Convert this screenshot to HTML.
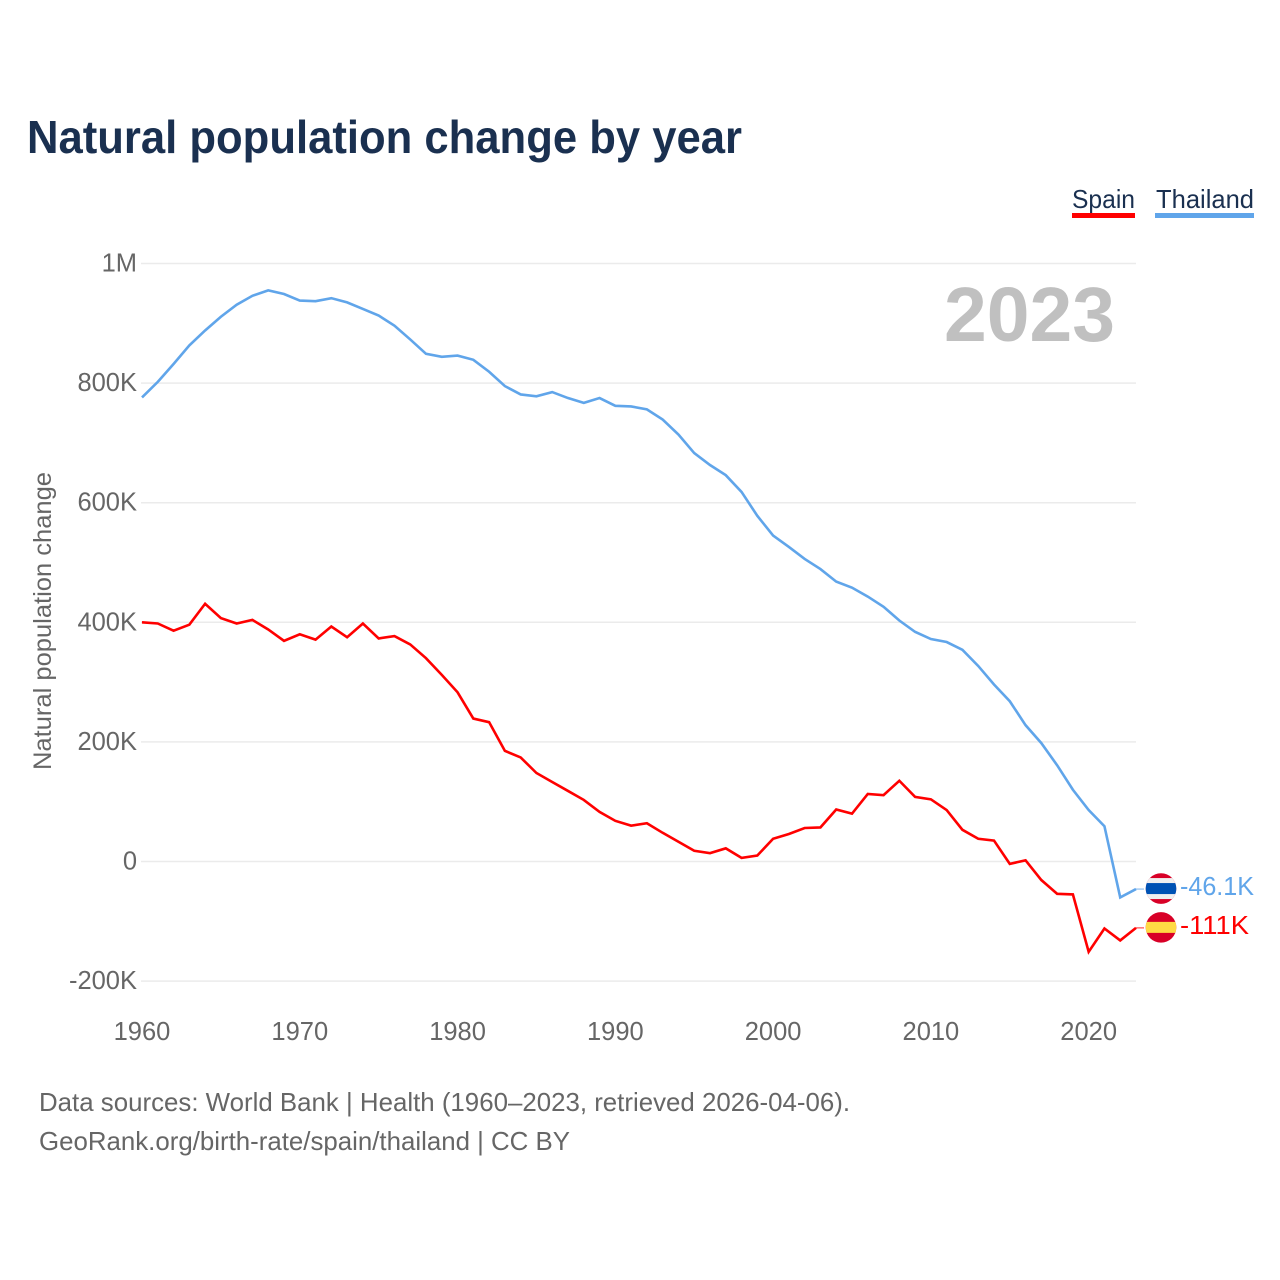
<!DOCTYPE html>
<html lang="en">
<head>
<meta charset="utf-8">
<title>Natural population change by year</title>
<style>
  html, body { margin: 0; padding: 0; background: #fff; }
  svg { display: block; }
  text { font-family: "Liberation Sans", sans-serif; }
</style>
</head>
<body>
<svg id="chart" xmlns="http://www.w3.org/2000/svg" width="1280" height="1280" viewBox="0 0 1280 1280">
  <defs>
    <clipPath id="flag-clip"><circle cx="0" cy="0" r="15.3"></circle></clipPath>
  </defs>
  <rect x="0" y="0" width="1280" height="1280" fill="#ffffff"></rect>

  <text x="27" y="153" font-size="46" font-weight="700" fill="#1a3050" textLength="715" lengthAdjust="spacingAndGlyphs">Natural population change by year</text>

  <g>
    <g>
      <text x="1072" y="208" font-size="26" fill="#1a3050" textLength="63" lengthAdjust="spacingAndGlyphs">Spain</text>
      <rect x="1072" y="213" width="63" height="5" fill="#ff0000"></rect>
    </g>
    <g>
      <text x="1156" y="208" font-size="26" fill="#1a3050" textLength="98" lengthAdjust="spacingAndGlyphs">Thailand</text>
      <rect x="1155" y="213" width="99" height="5" fill="#60a5ea"></rect>
    </g>
  </g>

  <g id="grid"></g>
  <g id="y-ticks"></g>
  <g id="x-ticks"></g>

  <text transform="translate(51 621) rotate(-90)" text-anchor="middle" font-size="25" fill="#666666" textLength="298" lengthAdjust="spacingAndGlyphs">Natural population change</text>

  <text x="1115" y="341" text-anchor="end" font-size="77" font-weight="700" fill="#c0c0c0" textLength="171" lengthAdjust="spacingAndGlyphs">2023</text>

  <g id="series"></g>

  <g id="flag-thailand">
    <g clip-path="url(#flag-clip)">
      <rect x="-16" y="-16" width="32" height="32" fill="#d80027"></rect>
      <rect x="-16" y="-10.5" width="32" height="21" fill="#f0f0f0"></rect>
      <rect x="-16" y="-5.5" width="32" height="11" fill="#0052b4"></rect>
    </g>
  </g>
  <g id="flag-spain">
    <g clip-path="url(#flag-clip)">
      <rect x="-16" y="-16" width="32" height="32" fill="#d80027"></rect>
      <rect x="-16" y="-5.5" width="32" height="11" fill="#ffda44"></rect>
    </g>
  </g>
  <g id="end-labels"></g>

  <text x="39" y="1111" font-size="26" fill="#666666" textLength="811" lengthAdjust="spacingAndGlyphs">Data sources: World Bank | Health (1960–2023, retrieved 2026-04-06).</text>
  <text x="39" y="1150" font-size="26" fill="#666666" textLength="531" lengthAdjust="spacingAndGlyphs">GeoRank.org/birth-rate/spain/thailand | CC BY</text>
</svg>

<script>
const firstYear = 1960;
const lastYear = 2023;
const xTickYears = [1960, 1970, 1980, 1990, 2000, 2010, 2020];
const yTickValues = [1000, 800, 600, 400, 200, 0, -200];
const yTickLabels = ["1M", "800K", "600K", "400K", "200K", "0", "-200K"];

const thailandValues = [
  776, 802, 832, 863, 888, 911, 931, 946, 955, 949,
  938, 937, 942, 935, 924, 913, 896, 873, 849, 844,
  846, 839, 819, 795, 781, 778, 785, 775, 767, 775,
  762, 761, 756, 739, 714, 683, 663, 646, 618, 578,
  545, 526, 506, 489, 468, 458, 443, 426, 403, 384,
  372, 367, 354, 327, 296, 268, 228, 198, 161, 120,
  86, 59, -60, -46.1
];
const spainValues = [
  400, 398, 386, 396, 431, 407, 398, 404, 388, 369,
  380, 371, 393, 375, 398, 373, 377, 363, 340, 312,
  283, 239, 233, 185, 174, 148, 133, 118, 103, 83,
  68, 60, 64, 48, 33, 18, 14, 22, 6, 10,
  38, 46, 56, 57, 87, 80, 113, 111, 135, 108,
  104, 86, 53, 38, 35, -4, 2, -31, -54, -55,
  -151, -112, -132, -111
];
const thailandEndLabel = "-46.1K";
const spainEndLabel = "-111K";

const NS = "http://www.w3.org/2000/svg";
function xScale(year) { return 142 + (year - firstYear) * (1136 - 142) / (lastYear - firstYear); }
function yScale(valueK) { return 861.5 - valueK * 0.598; }
function make(tag, attrs, parent) {
  const el = document.createElementNS(NS, tag);
  for (const k in attrs) el.setAttribute(k, attrs[k]);
  parent.appendChild(el);
  return el;
}
function linePath(values) {
  return values.map((v, i) => (i ? "L" : "M") + xScale(firstYear + i).toFixed(2) + " " + yScale(v).toFixed(2)).join(" ");
}

const gridGroup = document.getElementById("grid");
const yTickGroup = document.getElementById("y-ticks");
yTickValues.forEach((v, i) => {
  const line = make("line", { x1: 141, x2: 1136, y1: yScale(v), y2: yScale(v), stroke: "#ebebeb", "stroke-width": 1.5 }, gridGroup);
  
  
  const label = make("text", { x: 137, y: yScale(v) + 8, "text-anchor": "end", "font-size": 25.5, fill: "#666666" }, yTickGroup);
  
  
  label.textContent = yTickLabels[i];
});

const xTickGroup = document.getElementById("x-ticks");
xTickYears.forEach((yr) => {
  const label = make("text", { x: xScale(yr), y: 1040, "text-anchor": "middle", "font-size": 25.5, fill: "#666666" }, xTickGroup);
  
  
  label.textContent = String(yr);
});

const seriesGroup = document.getElementById("series");
const thailandLine = make("path", { d: linePath(thailandValues), fill: "none", stroke: "#60a5ea", "stroke-width": 2.6 }, seriesGroup);


const spainLine = make("path", { d: linePath(spainValues), fill: "none", stroke: "#ff0000", "stroke-width": 2.6 }, seriesGroup);



const endX = xScale(lastYear);
const thailandEndY = yScale(thailandValues[thailandValues.length - 1]);
const spainEndY = yScale(spainValues[spainValues.length - 1]);

const thailandConnector = make("line", { x1: endX, x2: 1144, y1: thailandEndY, y2: thailandEndY, stroke: "#60a5ea", "stroke-width": 1.2, opacity: 0.7 }, seriesGroup);


const spainConnector = make("line", { x1: endX, x2: 1144, y1: spainEndY, y2: spainEndY, stroke: "#ff0000", "stroke-width": 1.2, opacity: 0.7 }, seriesGroup);



document.getElementById("flag-thailand").setAttribute("transform", "translate(1161 " + (thailandEndY - 0.5) + ")");
document.getElementById("flag-spain").setAttribute("transform", "translate(1161 " + (spainEndY - 0.5) + ")");

const endGroup = document.getElementById("end-labels");
const thailandLabel = make("text", { x: 1180, y: thailandEndY + 6, "font-size": 25.5, fill: "#60a5ea", textLength: 74, lengthAdjust: "spacingAndGlyphs" }, endGroup);


thailandLabel.textContent = thailandEndLabel;
const spainLabel = make("text", { x: 1180, y: spainEndY + 6, "font-size": 25.5, fill: "#ff0000", textLength: 69, lengthAdjust: "spacingAndGlyphs" }, endGroup);


spainLabel.textContent = spainEndLabel;
</script>
</body>
</html>
